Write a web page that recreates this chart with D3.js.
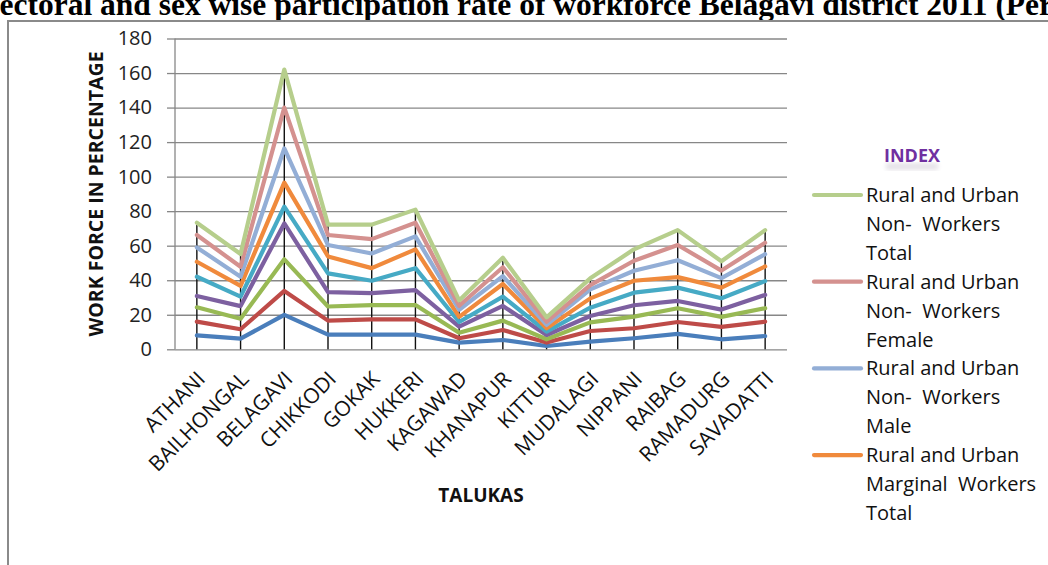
<!DOCTYPE html>
<html>
<head>
<meta charset="utf-8">
<script src="https://cdn.jsdelivr.net/npm/d3@7"></script>
<style>
  html, body { margin: 0; padding: 0; background: #fff; }
  svg { display: block; }
</style>
</head>
<body>
<svg id="chart" width="1048" height="565"></svg>
<script>
// Talukas of Belagavi district
const categories = ["ATHANI", "BAILHONGAL", "BELAGAVI", "CHIKKODI", "GOKAK", "HUKKERI", "KAGAWAD",
  "KHANAPUR", "KITTUR", "MUDALAGI", "NIPPANI", "RAIBAG", "RAMADURG", "SAVADATTI"];

// Participation rates (%) per series, one value per taluka (stacked in the chart)
const mainWorkersMale      = [8.1, 6.2, 19.9, 8.5, 8.5, 8.5, 3.9, 5.4, 1.9, 4.4, 6.4, 8.9, 5.8, 7.7];
const mainWorkersFemale    = [7.9, 5.4, 13.9, 8.1, 8.8, 8.8, 2.5, 5.8, 2.0, 6.2, 5.8, 6.9, 7.2, 8.3];
const mainWorkersTotal     = [8.3, 6.1, 18.3, 8.2, 8.3, 8.3, 3.2, 5.4, 1.9, 5.0, 6.7, 8.0, 5.8, 7.8];
const marginalWorkersMale  = [6.6, 7.3, 20.8, 8.3, 6.9, 8.7, 3.5, 8.5, 2.5, 3.7, 6.6, 4.2, 4.2, 7.7];
const marginalWorkersFemale= [11.1, 5.5, 9.7, 10.9, 7.2, 12.7, 2.7, 5.4, 1.9, 4.8, 7.3, 7.7, 6.6, 8.0];
const marginalWorkersTotal = [8.7, 6.2, 13.9, 9.8, 7.3, 10.9, 3.0, 7.3, 2.0, 5.4, 6.9, 6.1, 6.1, 8.5];
const nonWorkersMale       = [8.3, 5.3, 19.8, 6.6, 8.5, 7.5, 4.1, 4.6, 1.9, 5.2, 5.8, 9.8, 5.5, 7.1];
const nonWorkersFemale     = [7.2, 5.8, 23.7, 5.8, 8.3, 7.9, 2.3, 5.1, 1.9, 2.5, 5.8, 8.8, 4.4, 6.6];
const nonWorkersTotal      = [7.1, 7.4, 22.0, 6.0, 8.4, 7.6, 3.1, 5.5, 2.5, 3.9, 6.6, 8.6, 5.4, 7.3];

const seriesNames = [
  "Rural and Urban Main Workers Male",
  "Rural and Urban Main Workers Female",
  "Rural and Urban Main Workers Total",
  "Rural and Urban Marginal Workers Male",
  "Rural and Urban Marginal Workers Female",
  "Rural and Urban Marginal Workers Total",
  "Rural and Urban Non- Workers Male",
  "Rural and Urban Non- Workers Female",
  "Rural and Urban Non- Workers Total"
];
const seriesValues = [mainWorkersMale, mainWorkersFemale, mainWorkersTotal,
  marginalWorkersMale, marginalWorkersFemale, marginalWorkersTotal,
  nonWorkersMale, nonWorkersFemale, nonWorkersTotal];
const seriesColors = ["#4A7EBB", "#BE4B48", "#98B954", "#7D60A0", "#46AAC5", "#F08A3C",
  "#93AED6", "#D4918F", "#B6CE8C"];

// Legend lines (wrapped as in the legend box); legend lists the top series first
const legendEntries = [
  { series: 8, lines: ["Rural and Urban", "Non-  Workers", "Total"] },
  { series: 7, lines: ["Rural and Urban", "Non-  Workers", "Female"] },
  { series: 6, lines: ["Rural and Urban", "Non-  Workers", "Male"] },
  { series: 5, lines: ["Rural and Urban", "Marginal  Workers", "Total"] }
];

const yTicks = [0, 20, 40, 60, 80, 100, 120, 140, 160, 180];

const svg = d3.select("#chart");
const plot = { left: 175, right: 787, top: 38.5, bottom: 349.3 };

// Title (runs past the page edges)
svg.append("text")
  .attr("x", -18).attr("y", 15)
  .attr("font-family", "Liberation Serif, Times New Roman, serif")
  .attr("font-weight", "bold")
  .attr("font-size", 31.5)
  .attr("fill", "#000")
  .text("Sectoral and sex wise participation rate of workforce Belagavi district 2011 (Percentage)");

// Chart frame
svg.append("path")
  .attr("d", "M8,566 L8,21 L1050,21")
  .attr("fill", "none")
  .attr("stroke", "#8a8a8a")
  .attr("stroke-width", 2);

// Table of rows for stacking
const keys = seriesNames;
const rows = categories.map((c, i) => {
  const r = { taluka: c };
  keys.forEach((k, s) => { r[k] = seriesValues[s][i]; });
  return r;
});
const stacked = d3.stack().keys(keys)(rows);

const x = d3.scalePoint().domain(categories).range([plot.left, plot.right]).padding(0.5);
const y = d3.scaleLinear().domain([0, 180]).range([plot.bottom, plot.top]);

// Gridlines
const grid = svg.append("g")
  .attr("transform", `translate(${plot.left},0)`)
  .call(d3.axisLeft(y).tickValues(yTicks).tickSize(-(plot.right - plot.left)).tickFormat(""));
grid.select(".domain").remove();
grid.selectAll("line").attr("stroke", "#878787").attr("stroke-width", 1.3);

// Y axis with outside ticks and labels
const yAxis = svg.append("g")
  .attr("transform", `translate(${plot.left},0)`)
  .call(d3.axisLeft(y).tickValues(yTicks).tickSize(8).tickPadding(15));
yAxis.select(".domain").attr("stroke", "#878787").attr("stroke-width", 1.3)
  .attr("d", `M0,${plot.bottom}V${plot.top}`);
yAxis.selectAll("line").attr("stroke", "#878787").attr("stroke-width", 1.3);
yAxis.selectAll("text")
  .attr("font-family", "Open Sans, sans-serif")
  .attr("font-size", 20)
  .attr("fill", "#222");

// Drop lines from the top series to the category axis
const topSeries = stacked[stacked.length - 1];
svg.append("g").selectAll("line")
  .data(topSeries)
  .join("line")
  .attr("x1", d => x(d.data.taluka))
  .attr("x2", d => x(d.data.taluka))
  .attr("y1", d => y(d[1]))
  .attr("y2", y(0))
  .attr("stroke", "#111")
  .attr("stroke-width", 1.4);

// Stacked lines
const line = d3.line()
  .x(d => x(d.data.taluka))
  .y(d => y(d[1]));
svg.append("g").selectAll("path")
  .data(stacked)
  .join("path")
  .attr("d", line)
  .attr("fill", "none")
  .attr("stroke", (d, i) => seriesColors[i])
  .attr("stroke-width", 4.2)
  .attr("stroke-linejoin", "round")
  .attr("stroke-linecap", "round");

// Category axis labels (rotated)
const xAxis = svg.append("g")
  .attr("transform", `translate(0,${plot.bottom})`)
  .call(d3.axisBottom(x).tickSize(0).tickPadding(0));
xAxis.select(".domain").remove();
xAxis.selectAll("text")
  .attr("font-family", "Open Sans, sans-serif")
  .attr("font-size", 21)
  .attr("fill", "#111")
  .attr("text-anchor", "end")
  .attr("dy", 0)
  .attr("transform", "translate(9,31) rotate(-45)");

// Axis titles
svg.append("text")
  .attr("transform", "translate(103,194) rotate(-90)")
  .attr("text-anchor", "middle")
  .attr("font-family", "Open Sans, sans-serif")
  .attr("font-weight", "bold")
  .attr("font-size", 19.5)
  .attr("fill", "#111")
  .text("WORK FORCE IN PERCENTAGE");

svg.append("text")
  .attr("x", 481).attr("y", 502)
  .attr("text-anchor", "middle")
  .attr("font-family", "Open Sans, sans-serif")
  .attr("font-weight", "bold")
  .attr("font-size", 19)
  .attr("fill", "#111")
  .text("TALUKAS");

// Legend
const legend = svg.append("g");
const defs = svg.append("defs");
defs.append("filter").attr("id", "soft")
  .append("feGaussianBlur").attr("stdDeviation", 2);
// faint glow beneath the legend heading
legend.append("rect")
  .attr("x", 886).attr("y", 163).attr("width", 52).attr("height", 7)
  .attr("fill", "#b8b0c0").attr("opacity", 0.35)
  .attr("filter", "url(#soft)");
legend.append("text")
  .attr("x", 912).attr("y", 162)
  .attr("text-anchor", "middle")
  .attr("font-family", "Open Sans, sans-serif")
  .attr("font-weight", "bold")
  .attr("font-size", 18)
  .attr("fill", "#7030A0")
  .text("INDEX");

const lineGap = 28.9;
legendEntries.forEach((e, k) => {
  const y0 = 195 + k * lineGap * 3;
  legend.append("line")
    .attr("x1", 814).attr("x2", 861)
    .attr("y1", y0).attr("y2", y0)
    .attr("stroke", seriesColors[e.series])
    .attr("stroke-width", 4.2)
    .attr("stroke-linecap", "round");
  e.lines.forEach((t, j) => {
    legend.append("text")
      .attr("x", 866)
      .attr("y", y0 + j * lineGap + 7)
      .attr("font-family", "Open Sans, sans-serif")
      .attr("font-size", 20)
      .attr("fill", "#111")
      .attr("xml:space", "preserve")
      .style("white-space", "pre")
      .text(t);
  });
});
</script>
</body>
</html>
